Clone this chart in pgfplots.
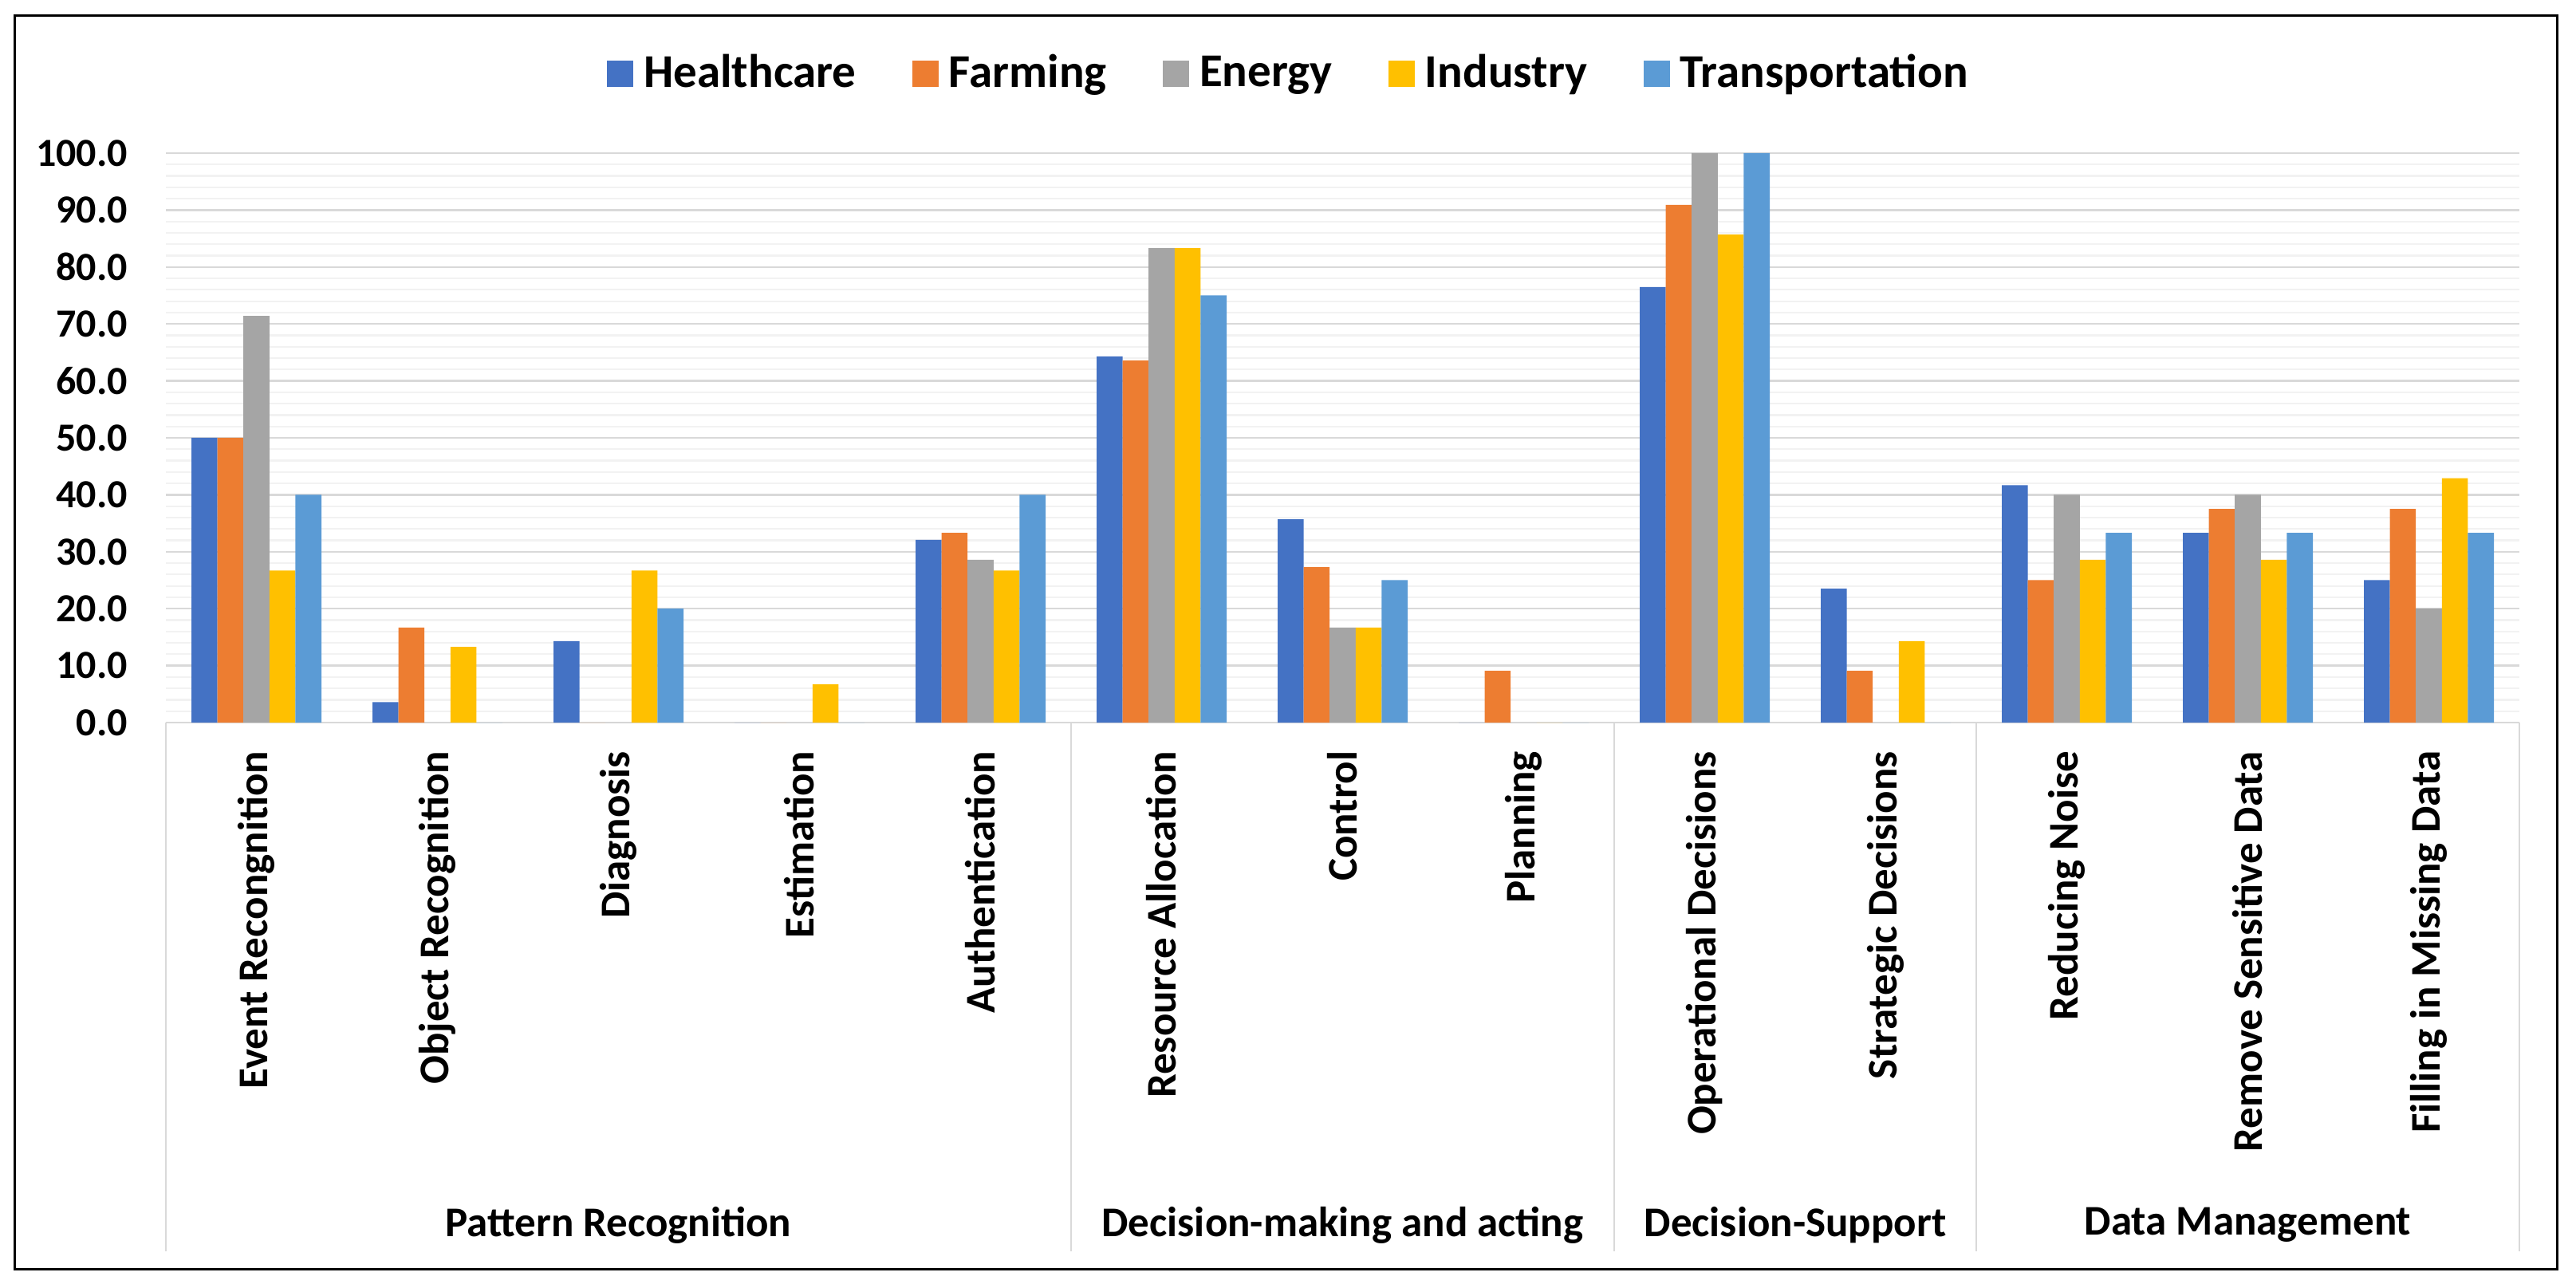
\documentclass[border=0pt]{standalone}
\usepackage{pgfplots}
\pgfplotsset{compat=1.18}
\usepackage{pgfplotstable}
\usepackage{fontspec}
\setmainfont{Carlito}

\definecolor{cHealth}{HTML}{4472C4}
\definecolor{cFarm}{HTML}{ED7D31}
\definecolor{cEnergy}{HTML}{A5A5A5}
\definecolor{cInd}{HTML}{FFC000}
\definecolor{cTrans}{HTML}{5B9BD5}
\definecolor{gridmaj}{HTML}{D9D9D9}
\definecolor{gridmin}{HTML}{F2F2F2}

% share of each sector per task (%), tasks in chart order
\pgfplotstableread{
x  H     F     E     I     T
0  50.0  50.0  71.4  26.7  40.0
1  3.6   16.7  0     13.3  0
2  14.3  0     0     26.7  20.0
3  0     0     0     6.7   0
4  32.1  33.3  28.6  26.7  40.0
5  64.3  63.6  83.3  83.3  75.0
6  35.7  27.3  16.7  16.7  25.0
7  0     9.1   0     0     0
8  76.5  90.9  100   85.7  100
9  23.5  9.1   0     14.3  0
10 41.7  25.0  40.0  28.6  33.3
11 33.3  37.5  40.0  28.6  33.3
12 25.0  37.5  20.0  42.9  33.3
}\datatable

\newcommand{\lblfont}{\fontsize{10.6bp}{12bp}\selectfont\bfseries}

\begin{document}
\begin{tikzpicture}
\path (0bp,0bp) rectangle (646bp,323bp);
\draw[line width=0.6bp] (3.6bp,4.6bp) rectangle (641.2bp,319bp);
\begin{axis}[
    at={(41.6bp,141.8bp)}, anchor=south west,
    scale only axis,
    width=590.2bp, height=142.8bp,
    ybar=0pt, bar width=6.52bp,
    xmin=-0.5, xmax=12.5,
    ymin=0, ymax=100,
    xtick={0,...,12},
    xticklabels={Event Recongnition, Object Recognition, Diagnosis, Estimation, Authentication,
                 Resource Allocation, Control, Planning, Operational Decisions, Strategic Decisions,
                 Reducing Noise, Remove Sensitive Data, Filling in Missing Data},
    xticklabel style={rotate=90, anchor=east, inner sep=0pt, font=\lblfont},
    xticklabel shift=7bp,
    ytick={0,10,...,100},
    yticklabel style={font=\fontsize{10bp}{12bp}\selectfont\bfseries, inner sep=0pt,
        /pgf/number format/.cd, fixed, fixed zerofill, precision=1, assume math mode=true},
    yticklabel shift=9.4bp,
    minor y tick num=4,
    ymajorgrids, yminorgrids,
    major grid style={draw=gridmaj, line width=0.45bp},
    minor grid style={draw=gridmin, line width=0.45bp},
    major tick length=0pt, minor tick length=0pt,
    axis x line*=bottom, axis y line*=left,
    x axis line style={draw=gridmaj, line width=0.5bp, -},
    y axis line style={draw=none},
    clip=false,
    legend columns=-1,
    legend style={at={(0.4788,1.139)}, anchor=center, draw=none,
        font=\fontsize{11.8bp}{13bp}\selectfont\bfseries,
        /tikz/every even column/.append style={column sep=11.5bp},
        nodes={inner xsep=2.6bp, inner ysep=0pt}},
    legend image code/.code={\fill[#1] (0bp,-3.3bp) rectangle (6.6bp,3.3bp);},
]
\addplot[fill=cHealth, draw=none] table[x=x, y=H] {\datatable};
\addplot[fill=cFarm, draw=none] table[x=x, y=F] {\datatable};
\addplot[fill=cEnergy, draw=none] table[x=x, y=E] {\datatable};
\addplot[fill=cInd, draw=none] table[x=x, y=I] {\datatable};
\addplot[fill=cTrans, draw=none] table[x=x, y=T] {\datatable};
\legend{Healthcare, Farming, Energy, Industry, Transportation}

\pgfplotsinvokeforeach{-0.5,4.5,7.5,9.5,12.5}{
  \draw[gridmaj, line width=0.45bp] (axis cs:#1,0) -- ++(0bp,-132.6bp);
}
\node[font=\lblfont] at ([yshift=-126bp]axis cs:2,0) {Pattern Recognition};
\node[font=\lblfont] at ([yshift=-126bp]axis cs:6,0) {Decision-making and acting};
\node[font=\lblfont] at ([yshift=-126bp]axis cs:8.5,0) {Decision-Support};
\node[font=\lblfont] at ([yshift=-126bp]axis cs:11,0) {Data Management};
\end{axis}
\end{tikzpicture}
\end{document}
